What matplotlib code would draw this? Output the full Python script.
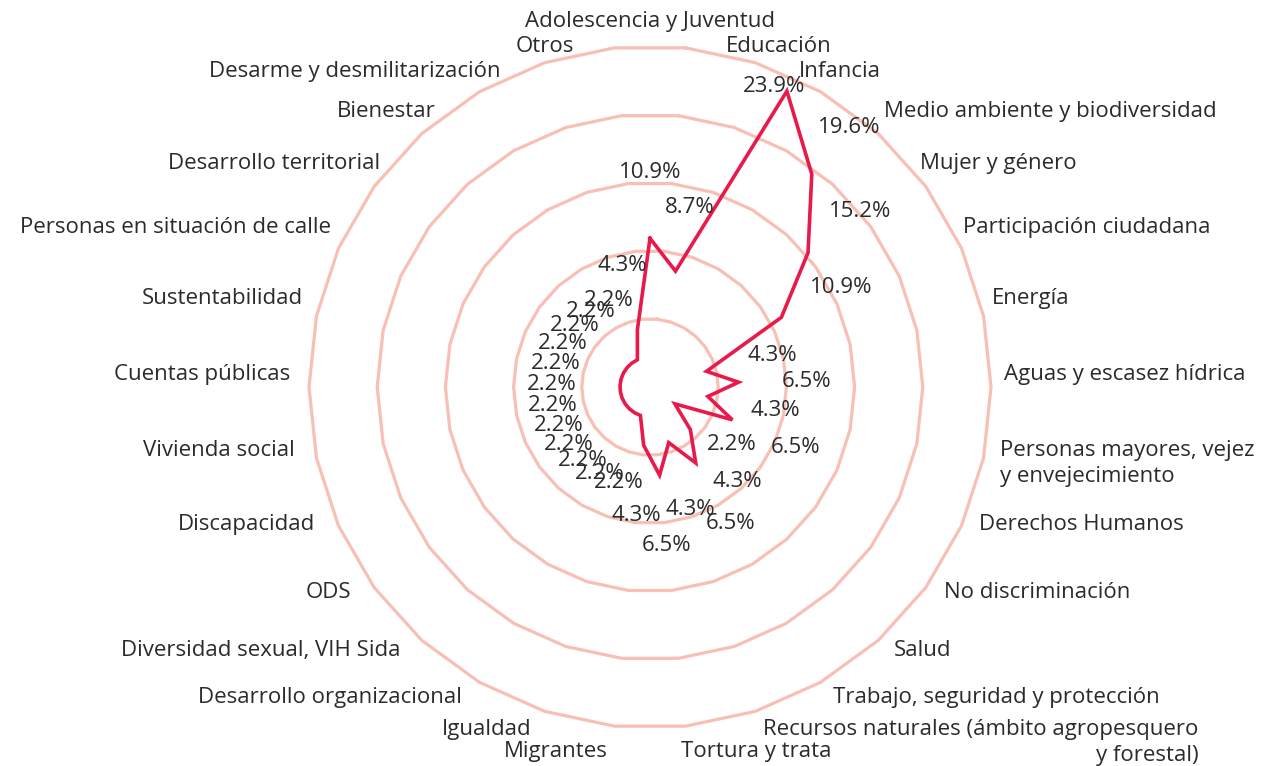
import numpy as np
import matplotlib.pyplot as plt

plt.rcParams['font.family'] = ['Open Sans', 'DejaVu Sans']

categories = [
    "Adolescencia y Juventud", "Educación", "Infancia",
    "Medio ambiente y biodiversidad", "Mujer y género",
    "Participación ciudadana", "Energía", "Aguas y escasez hídrica",
    "Personas mayores, vejez\ny envejecimiento", "Derechos Humanos",
    "No discriminación", "Salud", "Trabajo, seguridad y protección",
    "Recursos naturales (ámbito agropesquero\ny forestal)",
    "Tortura y trata", "Migrantes", "Igualdad",
    "Desarrollo organizacional", "Diversidad sexual, VIH Sida", "ODS",
    "Discapacidad", "Vivienda social", "Cuentas públicas",
    "Sustentabilidad", "Personas en situación de calle",
    "Desarrollo territorial", "Bienestar", "Desarme y desmilitarización",
    "Otros",
]
values = [
    10.9, 8.7, 23.9, 19.6, 15.2, 10.9, 4.3, 6.5, 4.3, 6.5,
    2.2, 4.3, 6.5, 4.3, 6.5, 4.3, 2.2, 2.2, 2.2, 2.2,
    2.2, 2.2, 2.2, 2.2, 2.2, 2.2, 2.2, 2.2, 4.3,
]
ring_levels = [5, 10, 15, 20, 25]
# labels whose extra lines are set flush right
right_aligned = {"Recursos naturales (ámbito agropesquero\ny forestal)"}

LINE = '#e8194b'
RING = '#f8c0b4'
TEXT = '#2b2b2b'
FS = 16

W, H = 1267, 766
fig = plt.figure(figsize=(W / 100, H / 100), dpi=100)
cx, cy, rad = 650, 387, 341
ax = fig.add_axes([(cx - rad) / W, (H - cy - rad) / H, 2 * rad / W, 2 * rad / H],
                  projection='polar')
ax.set_theta_zero_location('N')
ax.set_theta_direction(-1)
ax.set_ylim(0, 25)
ax.axis('off')

# polygonal rings (30 sides, flat top and bottom)
ring_theta = np.deg2rad(6 + 12 * np.arange(31))
for lvl in ring_levels:
    ax.plot(ring_theta, [lvl] * len(ring_theta), color=RING, lw=2.3,
            clip_on=False, zorder=1)

n = len(categories)
theta = 2 * np.pi * np.arange(n) / n
vals = np.array(values)
ax.plot(np.append(theta, theta[0]), np.append(vals, vals[0]), color=LINE,
        lw=2.6, clip_on=False, zorder=3, solid_joinstyle='miter')

# value labels just outside each point; the peak label is tucked in
# beside its vertex so it stays inside the outer ring
for t, v in zip(theta, vals):
    off = (-10, 3) if v + 5 > 25 else (0, 0)
    ax.annotate(f"{v}%", xy=(t, min(v + 5, 24.1)), xytext=off,
                textcoords='offset points', ha='center', va='center_baseline',
                fontsize=FS, color=TEXT, zorder=4, annotation_clip=False)

# category labels around the outer ring
for t, lab in zip(theta, categories):
    deg = np.rad2deg(t)
    dx, dy = 0, 3
    if np.isclose(deg, 0):
        ha, va, dy = 'center', 'bottom', 0
    elif abs(deg - 180) < 10:
        ha, va, dy = ('left' if deg < 180 else 'right'), 'top', -1
        dx = -5 if deg < 180 else -3
    elif deg < 180:
        ha, va = 'left', 'top'
        if 30 < deg < 45:
            dx = 14
    else:
        ha, va = 'right', 'top'
        dx = -4 if deg < 300 else 0
    ma = 'right' if lab in right_aligned else (ha if ha != 'center' else 'center')
    ax.annotate(lab, xy=(t, 26.0), xytext=(dx, dy), textcoords='offset points',
                ha=ha, va=va, multialignment=ma, linespacing=1.3,
                fontsize=FS, color=TEXT, zorder=4, annotation_clip=False)

fig.savefig('out.png', dpi=100, facecolor='white')
